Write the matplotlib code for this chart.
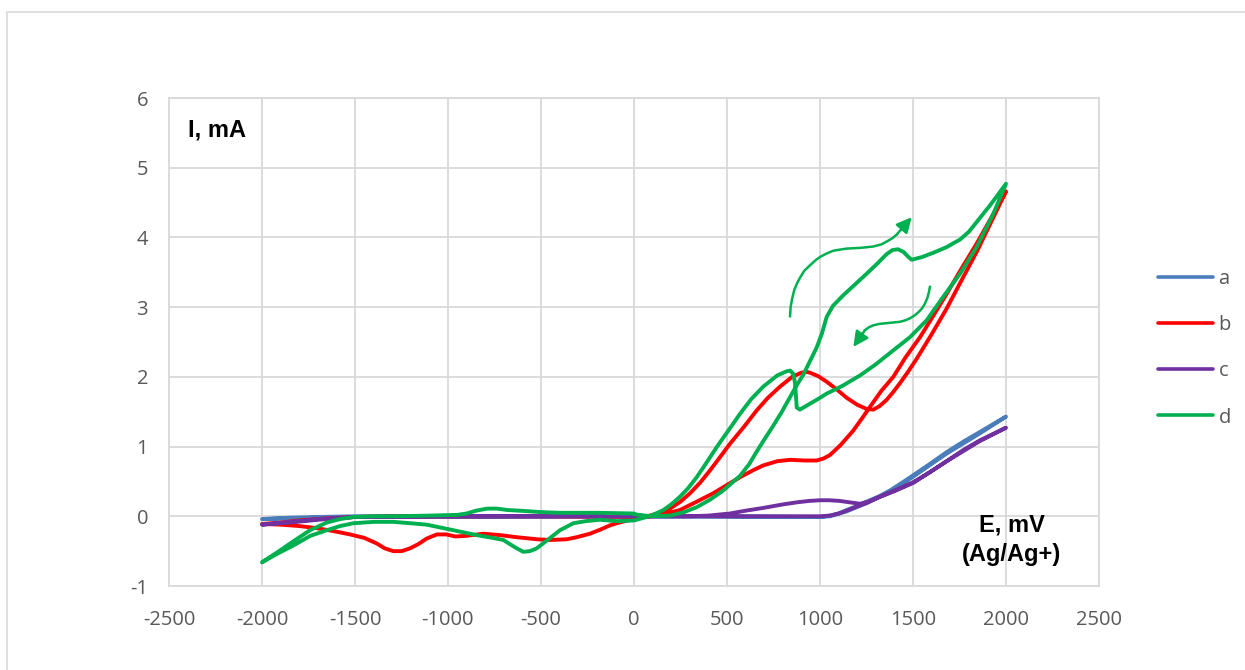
import matplotlib
matplotlib.use("Agg")
import matplotlib.pyplot as plt
from matplotlib.patches import Rectangle
from matplotlib.lines import Line2D

plt.rcParams["axes.unicode_minus"] = False

# Cyclic voltammograms, potential E (mV vs Ag/Ag+) and current I (mA)
E_a = [0, 500, 1000, 1054, 1100, 1143, 1200, 1251, 1320, 1376, 1440, 1502, 1590, 1681,
       1770, 1860, 1930, 2000, 1860, 1681, 1502, 1376, 1251, 1143, 1054, 1000, 0,
       -1000, -1500, -1700, -1850, -2000, -1850, -1700, -1500, -1000, 0]
I_a = [0.0, 0.0, -0.01, 0.01, 0.04, 0.09, 0.15, 0.21, 0.29, 0.37, 0.48, 0.59, 0.75, 0.92,
       1.07, 1.21, 1.32, 1.43, 1.19, 0.90, 0.57, 0.35, 0.19, 0.07, 0.0, -0.01, 0.0,
       -0.01, -0.01, -0.02, -0.03, -0.04, -0.02, -0.01, 0.0, 0.0, 0.0]

E_b = [0, 100, 160, 247, 330, 426, 500, 570, 640, 695, 770, 839, 920, 982, 1020, 1054,
       1110, 1179, 1230, 1269, 1330, 1394, 1460, 1538, 1610, 1681, 1760, 1842, 1920, 2000,
       1920, 1842, 1760, 1681, 1600, 1520, 1470, 1430, 1390, 1358, 1320, 1287, 1250, 1200,
       1143, 1090, 1036, 990, 946, 928, 900, 850, 785, 720, 660, 590, 516, 460, 409, 355,
       301, 250, 194, 140, 86, 40, 0,
       -50, -93, -129, -180, -237, -308, -362, -452, -520, -631, -720, -810, -900, -960,
       -1010, -1060, -1115, -1160, -1204, -1250, -1294, -1340, -1383, -1450, -1527, -1620,
       -1706, -1800, -1900, -2000,
       -1900, -1800, -1652, -1500, -1300, -1000, -500, 0]
I_b = [-0.02, 0.0, 0.03, 0.09, 0.20, 0.33, 0.45, 0.56, 0.66, 0.73, 0.79, 0.81, 0.80, 0.80, 0.83, 0.88,
       1.02, 1.23, 1.42, 1.57, 1.80, 2.00, 2.28, 2.57, 2.88, 3.19, 3.55, 3.91, 4.28, 4.66,
       4.22, 3.79, 3.38, 2.98, 2.61, 2.26, 2.06, 1.91, 1.77, 1.67, 1.58, 1.53, 1.54, 1.60,
       1.70, 1.82, 1.93, 2.01, 2.06, 2.07, 2.06, 2.00, 1.86, 1.70, 1.52, 1.28, 1.04, 0.84, 0.66, 0.48,
       0.33, 0.21, 0.11, 0.05, 0.01, -0.01, -0.04,
       -0.07, -0.10, -0.13, -0.19, -0.25, -0.30, -0.33, -0.34, -0.33, -0.30, -0.27, -0.25, -0.28, -0.29,
       -0.26, -0.26, -0.32, -0.40, -0.46, -0.50, -0.50, -0.46, -0.39, -0.31, -0.26, -0.21,
       -0.17, -0.14, -0.12, -0.11,
       -0.09, -0.06, -0.03, -0.01, 0.0, 0.0, 0.0, -0.01]

E_c = [0, 500, 800, 1000, 1054, 1100, 1143, 1200, 1251, 1322, 1400, 1502, 1590, 1681,
       1770, 1860, 1930, 2000,
       1860, 1681, 1502, 1400, 1322, 1260, 1215, 1160, 1107, 1050, 1000, 940, 875, 800,
       695, 600, 516, 400, 300, 0,
       -1000, -1500, -1700, -1850, -2000, -1850, -1700, -1500, -1000, 0]
I_c = [0.0, 0.0, 0.0, 0.0, 0.01, 0.04, 0.08, 0.14, 0.19, 0.28, 0.37, 0.49, 0.63, 0.79,
       0.95, 1.09, 1.18, 1.27,
       1.08, 0.79, 0.48, 0.36, 0.28, 0.21, 0.18, 0.20, 0.22, 0.23, 0.23, 0.22, 0.20, 0.17,
       0.12, 0.08, 0.04, 0.01, 0.0, 0.0,
       0.0, -0.01, -0.04, -0.08, -0.12, -0.09, -0.05, -0.01, 0.0, 0.0]

E_d = [0, 90, 194, 270, 337, 410, 480, 570, 620, 660, 705, 749, 795, 839, 875, 910, 945,
       982, 1010, 1036, 1070, 1125, 1190, 1251, 1310, 1358, 1390, 1420, 1450, 1475, 1493,
       1550, 1609, 1680, 1753, 1800, 1842, 1920, 2000,
       1932, 1842, 1753, 1663, 1573, 1484, 1394, 1300, 1215, 1120, 1036, 982, 930, 892,
       875, 870, 866, 857, 840, 821, 770, 695, 630, 570, 510, 444, 390, 337, 290, 247,
       200, 158, 110, 68, 0,
       -93, -183, -260, -326, -398, -460, -523, -560, -595, -630, -667, -703, -760, -846,
       -989, -1115, -1200, -1294, -1400, -1509, -1580, -1652, -1740, -1832, -1920, -2000,
       -1920, -1832, -1742, -1652, -1580, -1509, -1400, -1294, -1100, -950, -900, -850,
       -790, -738, -680, -613, -500, -398, -200, 0]
I_d = [0.03, 0.0, 0.01, 0.06, 0.13, 0.24, 0.37, 0.58, 0.75, 0.93, 1.12, 1.30, 1.50, 1.71, 1.88, 2.03, 2.22,
       2.42, 2.62, 2.86, 3.02, 3.17, 3.33, 3.48, 3.63, 3.76, 3.82, 3.83, 3.79, 3.72, 3.68,
       3.72, 3.78, 3.86, 3.97, 4.08, 4.22, 4.48, 4.77,
       4.34, 3.86, 3.48, 3.15, 2.81, 2.57, 2.38, 2.18, 2.02, 1.87, 1.76, 1.67, 1.59, 1.53,
       1.56, 1.75, 1.90, 2.04, 2.09, 2.08, 2.02, 1.86, 1.68, 1.47, 1.24, 0.99, 0.77, 0.56, 0.40, 0.28,
       0.17, 0.09, 0.03, -0.01, -0.06,
       -0.07, -0.05, -0.07, -0.10, -0.20, -0.33, -0.46, -0.50, -0.51, -0.46, -0.40, -0.34, -0.31, -0.27,
       -0.19, -0.12, -0.10, -0.08, -0.08, -0.10, -0.14, -0.20, -0.28, -0.42, -0.54, -0.66,
       -0.52, -0.36, -0.20, -0.09, -0.04, -0.01, 0.0, 0.0, 0.01, 0.02, 0.04, 0.08,
       0.11, 0.11, 0.09, 0.08, 0.06, 0.05, 0.05, 0.04]

# hand-drawn scan direction arrows on curve d
arrow_up_E = [839, 842, 850, 862, 878, 892, 915, 946, 975, 1000, 1036, 1072, 1143, 1215,
              1287, 1330, 1358, 1390, 1412]
arrow_up_I = [2.87, 3.00, 3.12, 3.25, 3.35, 3.42, 3.52, 3.60, 3.67, 3.72, 3.77, 3.81, 3.84, 3.85,
              3.87, 3.90, 3.94, 3.99, 4.04]
arrow_up_tip = (1493, 4.29)
arrow_dn_E = [1591, 1586, 1577, 1564, 1548, 1530, 1508, 1484, 1458, 1430, 1394, 1358, 1320,
              1287, 1262, 1242]
arrow_dn_I = [3.29, 3.22, 3.13, 3.05, 2.98, 2.93, 2.88, 2.84, 2.81, 2.79, 2.78, 2.77, 2.76,
              2.74, 2.71, 2.67]
arrow_dn_tip = (1179, 2.43)

labels = ["a", "b", "c", "d"]
colors = ["#4A7EBB", "#FF0000", "#7030A0", "#00B050"]
xticks = [-2500, -2000, -1500, -1000, -500, 0, 500, 1000, 1500, 2000, 2500]
yticks = [-1, 0, 1, 2, 3, 4, 5, 6]

tick_font = "Open Sans"
grid_col = "#D9D9D9"

fig = plt.figure(figsize=(12.45, 6.7), dpi=100)
ax = fig.add_axes([169 / 1245, 1 - 586 / 670, 930 / 1245, 488 / 670])

series = [(E_a, I_a), (E_b, I_b), (E_c, I_c), (E_d, I_d)]
for (E, I), lab, col in zip(series, labels, colors):
    ax.plot(E, I, color=col, lw=2.8, label=lab, solid_joinstyle="round",
            solid_capstyle="round", zorder=3)

g = colors[3]
head = "-|>,head_length=0.9,head_width=0.45"
for aE, aI, tip in [(arrow_up_E, arrow_up_I, arrow_up_tip),
                    (arrow_dn_E, arrow_dn_I, arrow_dn_tip)]:
    ax.plot(aE, aI, color=g, lw=1.8, solid_joinstyle="round", zorder=4)
    ax.annotate("", xy=tip, xytext=(aE[-1], aI[-1]),
                arrowprops=dict(arrowstyle=head, color=g, lw=1.8, shrinkA=0, shrinkB=0),
                zorder=4)

ax.set_xlim(-2500, 2500)
ax.set_ylim(-1, 6)
ax.set_xticks(xticks)
ax.set_yticks(yticks)
ax.grid(True, color=grid_col, lw=1.3)
ax.set_axisbelow(True)
for s in ax.spines.values():
    s.set_color(grid_col)
    s.set_linewidth(1.3)
ax.tick_params(length=0, labelsize=14.5, labelcolor="#595959")
ax.tick_params(axis="x", pad=17)
ax.tick_params(axis="y", pad=15)
for t in ax.get_xticklabels() + ax.get_yticklabels():
    t.set_fontfamily(tick_font)

ax.text(0.0204, 0.934, "I, mA", transform=ax.transAxes, ha="left", va="center",
        fontsize=17, fontweight="bold", family="Liberation Sans")
ax.text(0.906, 0.095, "E, mV\n(Ag/Ag+)", transform=ax.transAxes, ha="center", va="center",
        fontsize=17, fontweight="bold", family="Liberation Sans", linespacing=1.35)

handles = [Line2D([], [], color=c, lw=2.6, solid_capstyle="round") for c in colors]
fig.legend(handles, labels, loc="upper left", bbox_to_anchor=(1158 / 1245, 1 - 269 / 670),
           frameon=False, handlelength=2.75, handletextpad=0.25, labelspacing=1.3,
           borderpad=0, borderaxespad=0, prop={"family": tick_font, "size": 14.5},
           labelcolor="#595959")

# outer chart frame
fig.patches.append(Rectangle((7 / 1245, -0.5), 2, 0.5 + 1 - 12 / 670, transform=fig.transFigure,
                             fill=False, edgecolor=grid_col, lw=1.2))

fig.savefig("out.png", dpi=100)
